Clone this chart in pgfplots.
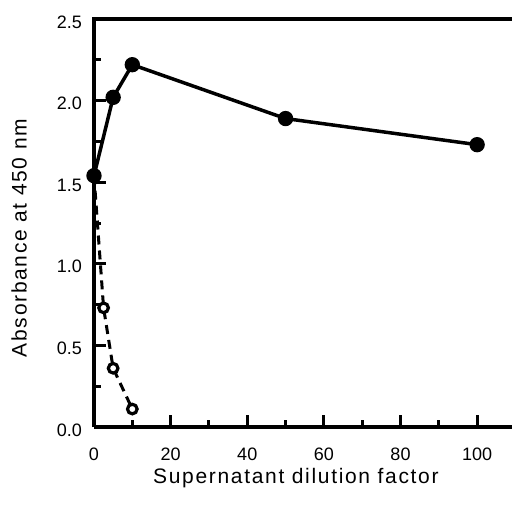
\documentclass[border=0pt]{standalone}
\usepackage{fontspec}
\setmainfont{Liberation Sans}
\usepackage{pgfplots}
\pgfplotsset{compat=1.18}
\begin{document}
\begin{tikzpicture}[x=1pt,y=1pt]
\useasboundingbox (-94,-77) rectangle (418,427);
\begin{axis}[
  at={(0pt,0pt)}, anchor=south west,
  scale only axis, width=418pt, height=408pt,
  xmin=0, xmax=109.1, ymin=0, ymax=2.5,
  axis x line*=bottom, axis y line*=left,
  axis line style={line width=3.5pt, -},
  every tick/.style={line width=3pt, black},
  major tick length=12pt, minor tick length=7pt,
  tick align=inside,
  xtick={0,20,...,100}, minor xtick={10,30,...,90},
  ytick={0,0.5,...,2.5}, minor ytick={0.25,0.75,...,2.25},
  /pgf/number format/assume math mode=true,
  yticklabel style={/pgf/number format/fixed, /pgf/number format/fixed zerofill, /pgf/number format/precision=1,
    anchor=east, inner sep=0pt, xshift=-12pt, yshift=-3pt},
  xticklabel style={anchor=north, inner sep=0pt, yshift=-21pt},
  tick label style={font=\fontsize{18}{18}\selectfont},
  label style={font=\fontsize{21}{25}\selectfont\addfontfeatures{LetterSpace=8}},
  xlabel={Supernatant dilution factor},
  ylabel={Absorbance at 450 nm},
  xlabel style={at={(rel axis cs:0.483,-0.1397)}, anchor=base, inner sep=0pt},
  ylabel style={at={(rel axis cs:-0.1794,0.463)}, anchor=center, inner sep=0pt},
  clip=false,
]
\draw[line width=3.5pt, line cap=rect] (rel axis cs:0,1) -- (rel axis cs:1,1);
\addplot[black, line width=3pt, dash pattern=on 9pt off 6pt, mark=*, mark size=4.8pt,
  mark options={solid, fill=white, line width=3.2pt}]
  coordinates {(0,1.54) (2.5,0.73) (5,0.36) (10,0.11)};
\addplot[black, line width=3.5pt, mark=*, mark size=5.9pt, mark options={fill=black}]
  coordinates {(0,1.54) (5,2.02) (10,2.22) (50,1.89) (100,1.73)};
\end{axis}
\end{tikzpicture}
\end{document}
